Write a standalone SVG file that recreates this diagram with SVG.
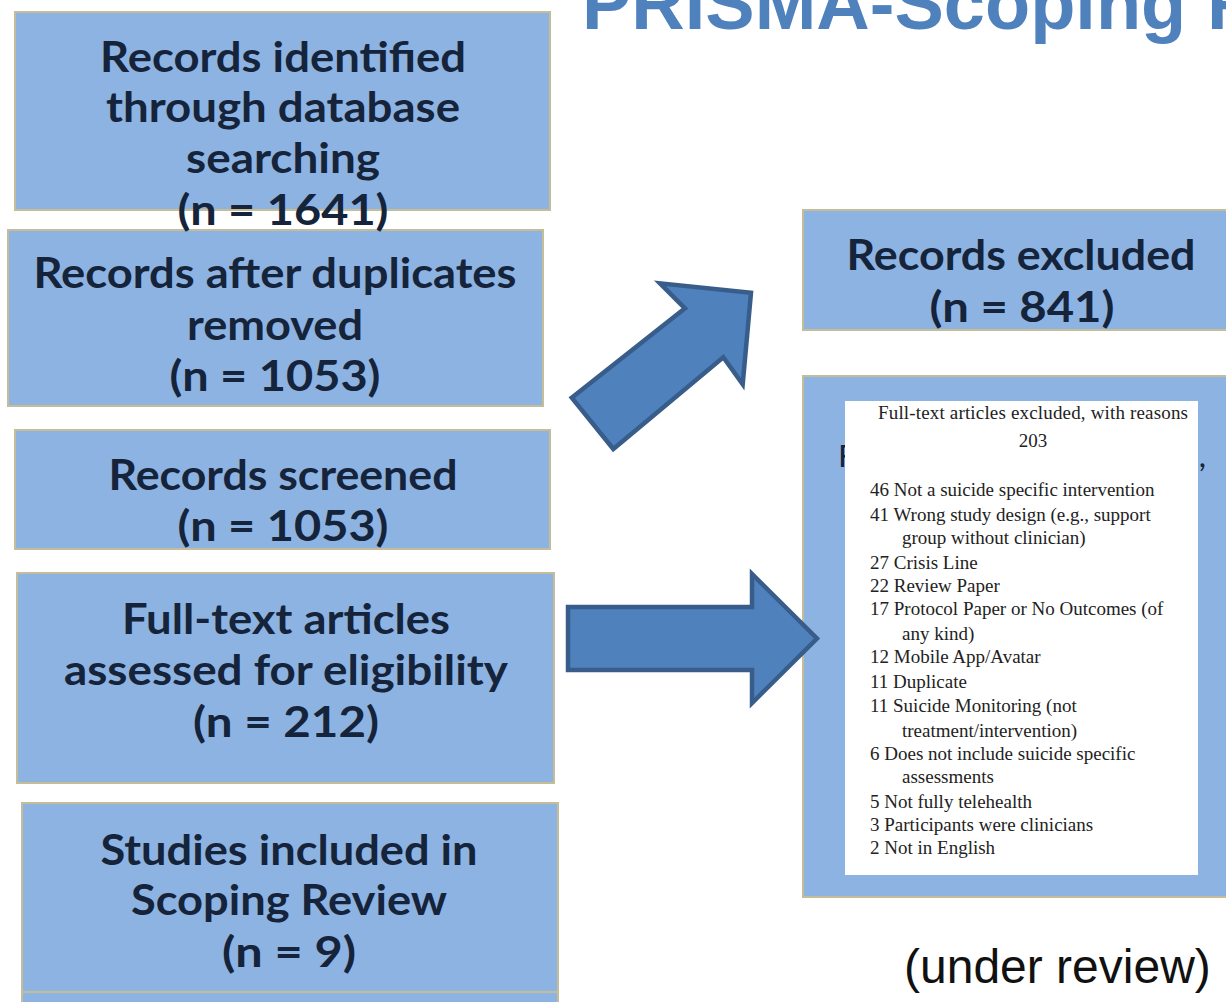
<svg xmlns="http://www.w3.org/2000/svg" width="1226" height="1002" viewBox="0 0 1226 1002">
  <style>
    .box { fill: #8db3e2; stroke: #c4bd97; stroke-width: 2; }
    .lbl { font-family: Lato, "Open Sans", "Liberation Sans", sans-serif; font-weight: 700; font-size: 42px; fill: #15243a; text-anchor: middle; }
    .under { font-family: Lato, "Open Sans", "Liberation Sans", sans-serif; font-weight: 400; font-size: 31px; fill: #15243a; }
    .arrow { fill: #4f81bd; stroke: #385d8a; stroke-width: 4.5; stroke-linejoin: miter; }
    .list { font-family: "Liberation Serif", "Times New Roman", serif; font-size: 19px; fill: #222222; }
    .title { font-family: "Liberation Sans", Arial, sans-serif; font-weight: 700; font-size: 74px; fill: #4f81bd; }
    .note { font-family: "Liberation Sans", Arial, sans-serif; font-size: 48px; fill: #111111; }
  </style>

  <rect width="1226" height="1002" fill="#ffffff"/>

  <text class="title" x="582" y="29">PRISMA-Scoping Review</text>

  <!-- next stage box, cut by the bottom edge -->
  <g id="box-next">
    <rect class="box" x="22" y="992" width="536" height="40"/>
  </g>

  <g id="box-duplicates">
    <rect class="box" x="8" y="230" width="535" height="176"/>
    <text class="lbl" x="275" y="288" textLength="483" lengthAdjust="spacingAndGlyphs">Records after duplicates</text>
    <text class="lbl" x="275" y="340" textLength="176" lengthAdjust="spacingAndGlyphs">removed</text>
    <text class="lbl" x="275" y="391" textLength="211" lengthAdjust="spacingAndGlyphs">(n = 1053)</text>
  </g>

  <g id="box-identified">
    <rect class="box" x="15" y="12" width="535" height="198"/>
    <text class="lbl" x="283" y="72" textLength="366" lengthAdjust="spacingAndGlyphs">Records identified</text>
    <text class="lbl" x="283" y="122" textLength="354" lengthAdjust="spacingAndGlyphs">through database</text>
    <text class="lbl" x="283" y="173" textLength="194" lengthAdjust="spacingAndGlyphs">searching</text>
    <text class="lbl" x="283" y="225" textLength="211" lengthAdjust="spacingAndGlyphs">(n = 1641)</text>
  </g>

  <g id="box-screened">
    <rect class="box" x="15" y="430" width="535" height="119"/>
    <text class="lbl" x="283" y="490" textLength="349" lengthAdjust="spacingAndGlyphs">Records screened</text>
    <text class="lbl" x="283" y="541" textLength="211" lengthAdjust="spacingAndGlyphs">(n = 1053)</text>
  </g>

  <g id="box-fulltext">
    <rect class="box" x="17" y="573" width="537" height="210"/>
    <text class="lbl" x="286" y="634" textLength="328" lengthAdjust="spacingAndGlyphs">Full-text articles</text>
    <text class="lbl" x="286" y="685" textLength="444" lengthAdjust="spacingAndGlyphs">assessed for eligibility</text>
    <text class="lbl" x="286" y="737" textLength="186" lengthAdjust="spacingAndGlyphs">(n = 212)</text>
  </g>

  <g id="box-included">
    <rect class="box" x="22" y="803" width="536" height="189"/>
    <text class="lbl" x="289" y="865" textLength="377" lengthAdjust="spacingAndGlyphs">Studies included in</text>
    <text class="lbl" x="289" y="915" textLength="316" lengthAdjust="spacingAndGlyphs">Scoping Review</text>
    <text class="lbl" x="289" y="967" textLength="134" lengthAdjust="spacingAndGlyphs">(n = 9)</text>
  </g>

  <g id="box-records-excluded">
    <rect class="box" x="803" y="210" width="436" height="120"/>
    <text class="lbl" x="1021" y="270" textLength="349" lengthAdjust="spacingAndGlyphs">Records excluded</text>
    <text class="lbl" x="1022" y="322" textLength="185" lengthAdjust="spacingAndGlyphs">(n = 841)</text>
  </g>

  <g id="box-fulltext-excluded">
    <rect class="box" x="803" y="376" width="436" height="521"/>
    <text class="under" x="838" y="467" textLength="368" lengthAdjust="spacingAndGlyphs">Full-text articles excluded,</text>
    <rect x="845" y="401" width="353" height="474" fill="#ffffff"/>
    <text class="list" x="1033" y="419" text-anchor="middle" textLength="310" lengthAdjust="spacing">Full-text articles excluded, with reasons</text>
    <text class="list" x="1033" y="447" text-anchor="middle">203</text>
    <text class="list" x="870" y="496">46 Not a suicide specific intervention</text>
    <text class="list" x="870" y="521">41 Wrong study design (e.g., support</text>
    <text class="list" x="902" y="544">group without clinician)</text>
    <text class="list" x="870" y="569">27 Crisis Line</text>
    <text class="list" x="870" y="592">22 Review Paper</text>
    <text class="list" x="870" y="615">17 Protocol Paper or No Outcomes (of</text>
    <text class="list" x="902" y="640">any kind)</text>
    <text class="list" x="870" y="663">12 Mobile App/Avatar</text>
    <text class="list" x="870" y="688">11 Duplicate</text>
    <text class="list" x="870" y="712">11 Suicide Monitoring (not</text>
    <text class="list" x="902" y="737">treatment/intervention)</text>
    <text class="list" x="870" y="760">6 Does not include suicide specific</text>
    <text class="list" x="902" y="783">assessments</text>
    <text class="list" x="870" y="808">5 Not fully telehealth</text>
    <text class="list" x="870" y="831">3 Participants were clinicians</text>
    <text class="list" x="870" y="854">2 Not in English</text>
  </g>

  <g id="connectors">
    <polygon class="arrow" points="571.7,397.7 685,308.3 660,283.3 751,292.7 742.7,384.3 723.3,357.3 613.3,449"/>
    <polygon class="arrow" points="568,607 752,607 752,574 817,638.5 752,703 752,670 568,670"/>
  </g>

  <text class="note" x="904" y="983">(under review)</text>
</svg>
